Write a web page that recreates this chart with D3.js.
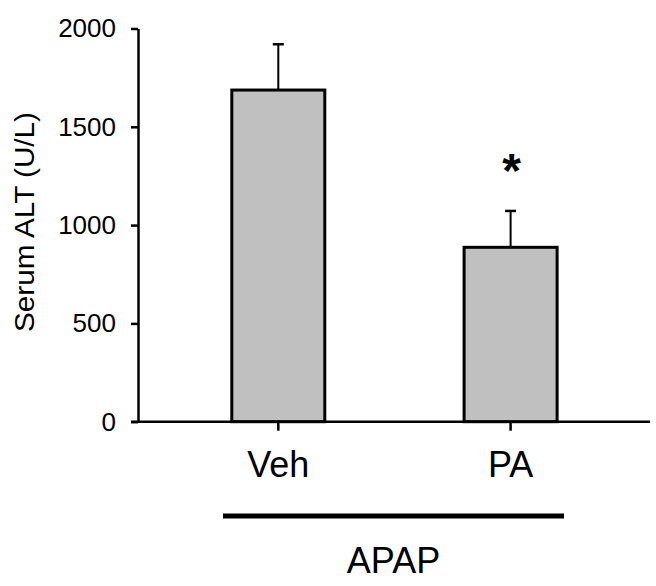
<!DOCTYPE html>
<html>
<head>
<meta charset="utf-8">
<script src="https://cdn.jsdelivr.net/npm/d3@7"></script>
<style>
  html, body { margin: 0; padding: 0; background: #fff; }
  svg { display: block; }
  text { font-family: "Liberation Sans", Arial, Helvetica, sans-serif; fill: #000; }
</style>
</head>
<body>
<svg id="chart" width="656" height="586"></svg>
<script>
// ---- data ----
const categories = ["Veh", "PA"];
const means = [1687, 887];
const errors = [233, 185];
const significance = ["", "*"];
const yTicks = [0, 500, 1000, 1500, 2000];
const yTitle = "Serum ALT (U/L)";
const groupLabel = "APAP";

// ---- layout ----
const svg = d3.select("#chart");
const axisX = 138;
const y = d3.scaleLinear().domain([0, 2000]).range([421.7, 28.5]);
const x = d3.scalePoint().domain(categories).range([278.3, 510.6]);
const barW = 93;

// y axis
const yAxis = d3.axisLeft(y).tickValues(yTicks).tickFormat(d3.format("d"))
  .tickSize(7).tickSizeOuter(0).tickPadding(15);
const gy = svg.append("g").attr("transform", `translate(${axisX},0)`).call(yAxis);
gy.attr("font-size", null).attr("font-family", null);
gy.select(".domain").attr("stroke", "#000").attr("stroke-width", 2.5);
gy.selectAll(".tick line").attr("stroke", "#000").attr("stroke-width", 2.5);
gy.selectAll(".tick text").style("font-size", "26px").attr("fill", "#000");

// bars
svg.selectAll("rect.bar").data(categories).enter().append("rect")
  .attr("class", "bar")
  .attr("x", d => x(d) - barW / 2)
  .attr("width", barW)
  .attr("y", (d, i) => y(means[i]))
  .attr("height", (d, i) => y(0) - y(means[i]))
  .attr("fill", "#c0c0c0")
  .attr("stroke", "#000")
  .attr("stroke-width", 3);

// error bars (upper only)
categories.forEach((c, i) => {
  const cx = x(c);
  svg.append("line").attr("x1", cx).attr("x2", cx)
    .attr("y1", y(means[i])).attr("y2", y(means[i] + errors[i]))
    .attr("stroke", "#000").attr("stroke-width", 2);
  svg.append("line").attr("x1", cx - 5.5).attr("x2", cx + 5.5)
    .attr("y1", y(means[i] + errors[i])).attr("y2", y(means[i] + errors[i]))
    .attr("stroke", "#000").attr("stroke-width", 2.5);
  if (significance[i]) {
    svg.append("text").attr("x", cx + 1).attr("y", y(means[i] + errors[i]) - 24)
      .attr("text-anchor", "middle").style("font-size", "48px").style("font-weight", "bold")
      .text(significance[i]);
  }
});

// x axis line
svg.append("line").attr("x1", 131).attr("x2", 650).attr("y1", y(0)).attr("y2", y(0))
  .attr("stroke", "#000").attr("stroke-width", 2.5);
// x ticks
svg.selectAll("line.xt").data(categories).enter().append("line")
  .attr("x1", d => x(d)).attr("x2", d => x(d))
  .attr("y1", y(0)).attr("y2", y(0) + 9)
  .attr("stroke", "#000").attr("stroke-width", 2.5);
// x labels
svg.selectAll("text.xl").data(categories).enter().append("text")
  .attr("x", d => x(d)).attr("y", 477)
  .attr("text-anchor", "middle").style("font-size", "36px")
  .text(d => d);

// group bar and label
svg.append("line").attr("x1", 223).attr("x2", 564).attr("y1", 516).attr("y2", 516)
  .attr("stroke", "#000").attr("stroke-width", 5);
svg.append("text").attr("x", 393.5).attr("y", 573)
  .attr("text-anchor", "middle").style("font-size", "36px").text(groupLabel);

// y title
svg.append("text")
  .attr("transform", "translate(34,222) rotate(-90)")
  .attr("text-anchor", "middle").style("font-size", "27px")
  .attr("textLength", 220).attr("lengthAdjust", "spacingAndGlyphs")
  .text(yTitle);
</script>
</body>
</html>
